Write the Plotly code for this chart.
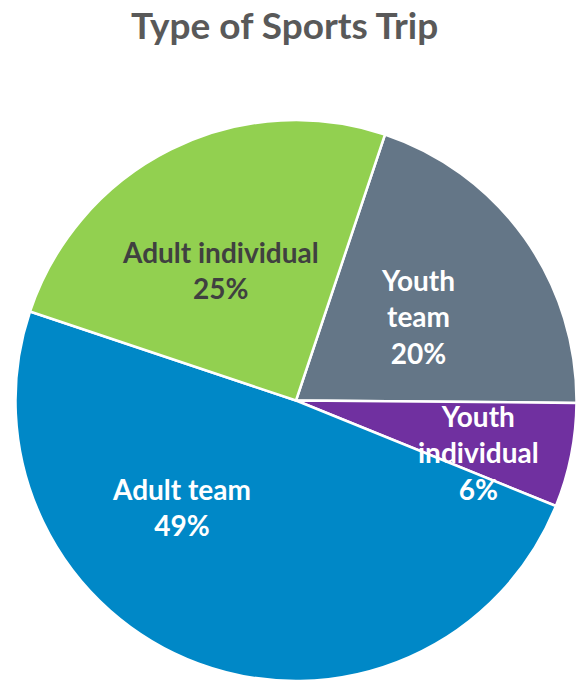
import plotly.graph_objects as go

# Share of sports trips by type (percent)
categories = ["Youth team", "Youth individual", "Adult team", "Adult individual"]
shares = [20, 6, 49, 25]
label_lines = [["Youth", "team"], ["Youth", "individual"], ["Adult team"], ["Adult individual"]]

slice_colors = ["#647687", "#7030A0", "#0088C7", "#92D050"]
text_colors = ["white", "white", "white", "#404040"]
# label anchor points in pixels (x, y of block centre)
label_pos = [(418, 316), (478, 452), (181, 507), (220, 270)]

W, H = 577, 681

fig = go.Figure(
    go.Pie(
        labels=categories,
        values=shares,
        sort=False,
        direction="clockwise",
        rotation=18.5,
        marker=dict(colors=slice_colors, line=dict(color="white", width=2.5)),
        textinfo="none",
        hoverinfo="label+percent",
        showlegend=False,
        domain=dict(x=[15 / W, 577 / W], y=[0, 561 / H]),
    )
)

annotations = []
for lines, v, col, (px, py) in zip(label_lines, shares, text_colors, label_pos):
    annotations.append(
        dict(
            text="<br>".join(lines + [f"{v}%"]),
            x=px / W,
            y=1 - py / H,
            xref="paper",
            yref="paper",
            xanchor="center",
            yanchor="middle",
            showarrow=False,
            align="center",
            font=dict(family="Lato", size=28, color=col, weight="bold"),
        )
    )

annotations.append(
    dict(
        text="<b>Type of Sports Trip</b>",
        x=284 / W,
        y=1 - 25 / H,
        xref="paper",
        yref="paper",
        xanchor="center",
        yanchor="middle",
        showarrow=False,
        font=dict(family="Lato", size=37, color="#595959"),
    )
)

fig.update_layout(
    width=W,
    height=H,
    margin=dict(l=0, r=0, t=0, b=0),
    paper_bgcolor="white",
    plot_bgcolor="white",
    annotations=annotations,
)

fig.write_html("out.html")
